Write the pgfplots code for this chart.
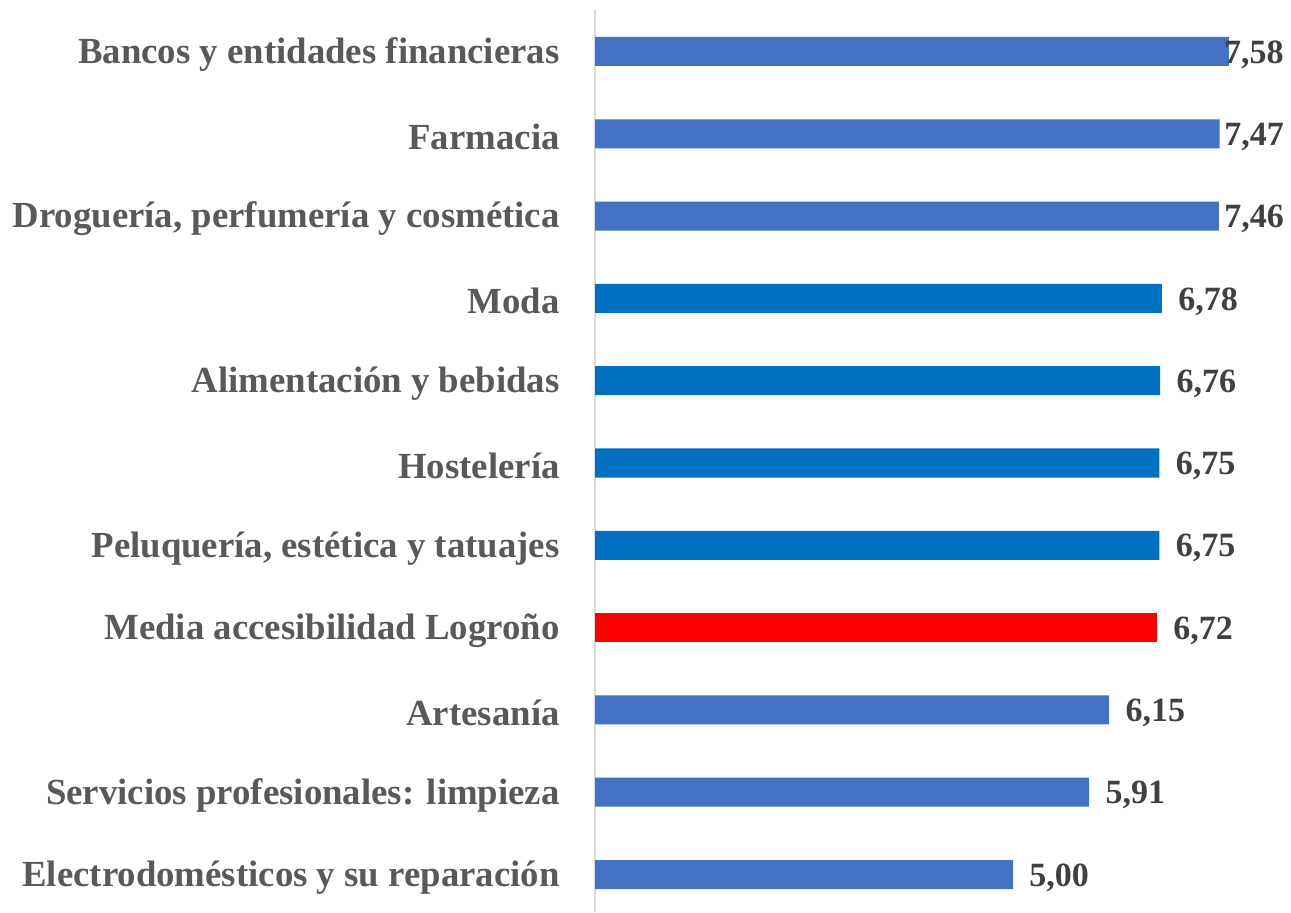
\documentclass[border=0pt]{standalone}
\usepackage{pgfplots}
\pgfplotsset{compat=1.18}
\usepackage{pgfplotstable}
\usepackage{fontspec}
\setmainfont{Liberation Serif}
\definecolor{cA}{HTML}{4472C4}
\definecolor{cB}{HTML}{0070C0}
\definecolor{cR}{HTML}{FF0000}
\definecolor{lab}{HTML}{595959}
\definecolor{val}{HTML}{404040}
\definecolor{axl}{HTML}{D9D9D9}
\pgfplotstableread{
y x lab off
10 7.58 7,58 -2.5
9 7.47 7,47 2.2
8 7.46 7,46 2.65
2 6.15 6,15 8
1 5.91 5,91 8
0 5.00 5,00 8
}\blueA
\pgfplotstableread{
y x lab off
7 6.78 6,78 8
6 6.76 6,76 8
5 6.75 6,75 8
4 6.75 6,75 8
}\blueB
\pgfplotstableread{
y x lab off
3 6.72 6,72 8
}\redT
\pgfplotsset{mybar/.style={xbar, bar width=14.5pt, bar shift=0pt, draw=none,
    nodes near coords, point meta=explicit symbolic,
    visualization depends on={\thisrow{off} \as \xoff},
    every node near coord/.append style={anchor=west, inner sep=0pt, xshift=\xoff pt, yshift=-1.5pt, font=\fontsize{17pt}{20pt}\selectfont\bfseries, text=val}}}
\begin{document}
\begin{tikzpicture}
\begin{axis}[
  scale only axis,
  width=346.94pt, height=450.6pt,
  xmin=0, xmax=8.3, ymin=-0.45, ymax=10.5,
  axis x line=none,
  axis y line*=left,
  y axis line style={draw=axl, line width=0.75pt, -},
  major tick length=0pt,
  ytick={0,...,10},
  yticklabels={Electrodomésticos y su reparación, Servicios profesionales: limpieza, Artesanía, Media accesibilidad Logroño, {Peluquería, estética y tatuajes}, Hostelería, Alimentación y bebidas, Moda, {Droguería, perfumería y cosmética}, Farmacia, Bancos y entidades financieras},
  yticklabel style={font=\fontsize{18.4pt}{21pt}\selectfont\bfseries, text=lab, anchor=east, inner sep=0pt, xshift=-17.5pt, yshift=-1.5pt},
  clip=false,
]
\addplot[mybar, fill=cA] table[x=x,y=y,meta=lab]{\blueA};
\addplot[mybar, fill=cB] table[x=x,y=y,meta=lab]{\blueB};
\addplot[mybar, fill=cR] table[x=x,y=y,meta=lab]{\redT};
\coordinate (bl) at (rel axis cs:0,0);
\coordinate (tr) at (rel axis cs:1,1);
\end{axis}
\pgfresetboundingbox
\path ([xshift=-297.5pt,yshift=-0.25pt]bl) rectangle ([xshift=1pt,yshift=5.15pt]tr);
\end{tikzpicture}
\end{document}
